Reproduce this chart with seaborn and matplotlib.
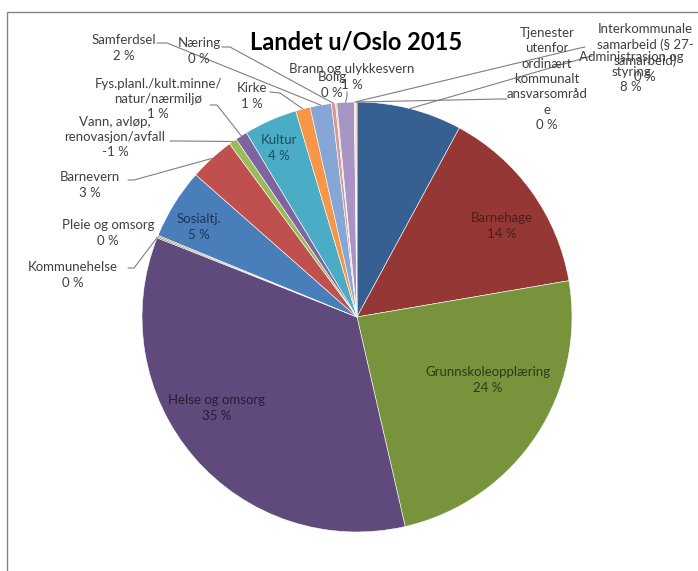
import numpy as np
import matplotlib
matplotlib.use("Agg")
import matplotlib.pyplot as plt
import seaborn as sns

# share of net operating expenses, percent (Vann is negative in the source)
categories = [
    "Administrasjon og styring", "Barnehage", "Grunnskoleopplæring",
    "Helse og omsorg", "Kommunehelse", "Pleie og omsorg", "Sosialtj.",
    "Barnevern", "Vann, avløp, renovasjon/avfall",
    "Fys.planl./kult.minne/natur/nærmiljø", "Kultur", "Kirke", "Samferdsel",
    "Næring", "Bolig", "Brann og ulykkesvern",
    "Interkommunale samarbeid (§ 27-samarbeid)",
    "Tjenester utenfor ordinært kommunalt ansvarsområde",
]
values = [7.9, 14.4, 24.1, 34.6, 0.1, 0.1, 5.3, 3.4, -0.6, 0.9, 4.0, 1.1,
          1.6, 0.3, 0.1, 1.3, 0.1, 0.1]
title = "Landet u/Oslo 2015"

slice_colors = ["#376092", "#953735", "#77933C", "#604A7B", "#31859C", "#E46C0A",
                "#4A7EBB", "#C0504D", "#9BBB59", "#8064A2", "#4BACC6", "#F79646",
                "#86A6D6", "#D99694", "#C3D69B", "#A994C6", "#93CDDD", "#FAC090"]

# how Excel wrapped the long names
wrapped = {
    "Administrasjon og styring": "Administrasjon og\nstyring",
    "Vann, avløp, renovasjon/avfall": "Vann, avløp,\nrenovasjon/avfall",
    "Fys.planl./kult.minne/natur/nærmiljø": "Fys.planl./kult.minne/\nnatur/nærmiljø",
    "Interkommunale samarbeid (§ 27-samarbeid)": "Interkommunale\nsamarbeid (§ 27-\nsamarbeid)",
    "Tjenester utenfor ordinært kommunalt ansvarsområde":
        "Tjenester\nutenfor\nordinært\nkommunalt\nansvarsområd\ne",
}

# label centres in pixels (manual placement, as in the original)
label_pos = {
    "Administrasjon og styring": (631, 72), "Barnehage": (502, 226),
    "Grunnskoleopplæring": (488, 380), "Helse og omsorg": (217, 408),
    "Kommunehelse": (73, 275), "Pleie og omsorg": (108, 233),
    "Sosialtj.": (199, 227), "Barnevern": (90, 185),
    "Vann, avløp, renovasjon/avfall": (115, 137),
    "Fys.planl./kult.minne/natur/nærmiljø": (158, 99), "Kultur": (279, 148),
    "Kirke": (252, 96), "Samferdsel": (124, 48), "Næring": (199, 51),
    "Bolig": (332, 85), "Brann og ulykkesvern": (352, 77),
    "Interkommunale samarbeid (§ 27-samarbeid)": (645, 53),
    "Tjenester utenfor ordinært kommunalt ansvarsområde": (547, 79),
}
inside_color = {
    "Barnehage": "#4D1C1B", "Grunnskoleopplæring": "#2E3A17",
    "Helse og omsorg": "#261D33", "Sosialtj.": "#1C3657", "Kultur": "#1E4D5A",
}
# leader line start + elbow (pixels); the far end is the slice rim
leaders = {
    "Samferdsel": ((157, 43), (167, 43)),
    "Næring": ((222, 47), (230, 47)),
    "Kirke": ((270, 92), (280, 93)),
    "Fys.planl./kult.minne/natur/nærmiljø": ((210, 105), (217, 105)),
    "Vann, avløp, renovasjon/avfall": ((170, 141), (178, 141)),
    "Barnevern": ((128, 180), (134, 180)),
    "Kommunehelse": ((128, 268), (134, 268)),
    "Brann og ulykkesvern": ((347, 92), (347, 96)),
    "Tjenester utenfor ordinært kommunalt ansvarsområde": ((507, 99), (500, 99)),
    "Interkommunale samarbeid (§ 27-samarbeid)": ((585, 47), (580, 48)),
    "Administrasjon og styring": ((592, 56), (588, 57)),
}

W, H = 698, 571
CX, CY, R = 357, 317, 215


def px(x, y):
    return (x - CX) / R, (CY - y) / R


sns.set_theme(style="white")
plt.rcParams["font.family"] = ["Lato", "DejaVu Sans"]

fig = plt.figure(figsize=(W / 100, H / 100), dpi=100)
ax = fig.add_axes([0, 0, 1, 1])

palette = sns.color_palette(slice_colors)
wedges, _ = ax.pie(np.abs(values), colors=palette, startangle=90, counterclock=False,
                   radius=1, wedgeprops=dict(edgecolor="white", linewidth=0.4))
ax.set_xlim(-CX / R, (W - CX) / R)
ax.set_ylim(-(H - CY) / R, CY / R)
ax.axis("off")

for name, w in zip(categories, wedges):
    if name not in leaders:
        continue
    mid = np.deg2rad((w.theta1 + w.theta2) / 2)
    (sx, sy), (ex, ey) = leaders[name]
    pts = [px(sx, sy), px(ex, ey), (np.cos(mid), np.sin(mid))]
    ax.plot(*zip(*pts), color="#7F7F7F", lw=0.8, zorder=3)

for name, v in zip(categories, values):
    txt = f"{wrapped.get(name, name)}\n{v:.0f} %"
    x, y = px(*label_pos[name])
    ax.text(x, y, txt, ha="center", va="center", fontsize=9.5, linespacing=1.33,
            color=inside_color.get(name, "#404040"), zorder=4)

ax.text(*px(356, 42), title, ha="center", va="center", fontsize=17,
        fontweight="bold", color="black")

# chart-area border (cropped on the right and bottom)
fig.patches.append(plt.Rectangle((7 / W, -0.01), 1.0, 1 - 12 / H + 0.01,
                                 transform=fig.transFigure, fill=False,
                                 edgecolor="#868686", lw=1))

fig.savefig("out.png", dpi=100)
